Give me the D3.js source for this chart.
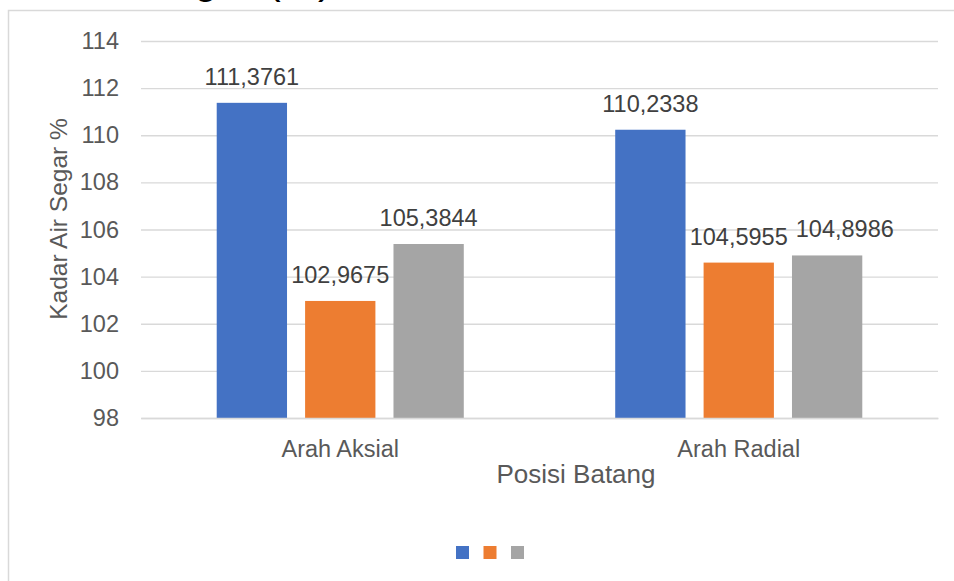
<!DOCTYPE html>
<html>
<head>
<meta charset="utf-8">
<script src="https://cdn.jsdelivr.net/npm/d3@7"></script>
<style>
  body { margin: 0; background: #fff; }
  svg { display: block; font-family: Arial, "Liberation Sans", sans-serif; }
</style>
</head>
<body>
<svg width="954" height="581"></svg>
<script>
const categories = ["Arah Aksial", "Arah Radial"];
const seriesKeys = ["s1", "s2", "s3"];
const seriesColors = ["#4472c4", "#ed7d31", "#a5a5a5"];
const values = [
  [111.3761, 102.9675, 105.3844],
  [110.2338, 104.5955, 104.8986]
];
const yTicks = [98, 100, 102, 104, 106, 108, 110, 112, 114];

const svg = d3.select("svg");
const plot = { left: 141, right: 938, top: 41, bottom: 418 };
const fontFam = "Arial, 'Liberation Sans', sans-serif";

const idLocale = d3.formatLocale({ decimal: ",", thousands: ".", grouping: [3], currency: ["", ""] });
const fmt = idLocale.format(".4f");

// outer frame (cropped on right and bottom)
svg.append("path")
  .attr("d", "M8.5,581 V10.5 H954")
  .attr("fill", "none")
  .attr("stroke", "#d9d9d9")
  .attr("stroke-width", 1.5);

// title, mostly cut off at the top
svg.append("text")
  .attr("x", 332).attr("y", -7)
  .attr("text-anchor", "end")
  .attr("font-size", 42)
  .attr("fill", "#000")
  .text("Kadar Air Segar (%)");

const y = d3.scaleLinear().domain([98, 114]).range([plot.bottom, plot.top]);

const x0 = d3.scaleBand()
  .domain(categories)
  .range([plot.left, plot.right])
  .paddingInner(0.38)
  .paddingOuter(0.19);

const x1 = d3.scaleBand()
  .domain(seriesKeys)
  .range([0, x0.bandwidth()])
  .paddingInner(0.2045);

const color = d3.scaleOrdinal().domain(seriesKeys).range(seriesColors);

// grid lines + y tick labels
const yAxis = d3.axisLeft(y).tickValues(yTicks).tickSize(-(plot.right - plot.left)).tickPadding(22);
svg.append("g")
  .attr("transform", `translate(${plot.left},0)`)
  .call(yAxis)
  .call(g => g.select(".domain").remove())
  .call(g => g.selectAll(".tick line").attr("stroke", "#d9d9d9").attr("stroke-width", 1.3))
  .call(g => g.selectAll(".tick text").attr("font-size", 23.5).attr("fill", "#595959").attr("font-family", fontFam));

// bars
const groups = svg.append("g").selectAll("g")
  .data(categories)
  .join("g")
  .attr("transform", d => `translate(${x0(d)},0)`);

groups.selectAll("rect")
  .data((d, i) => seriesKeys.map((k, j) => ({ key: k, value: values[i][j] })))
  .join("rect")
  .attr("x", d => x1(d.key))
  .attr("width", x1.bandwidth())
  .attr("y", d => y(d.value))
  .attr("height", d => y(98) - y(d.value))
  .attr("fill", d => color(d.key));

groups.selectAll("text.val")
  .data((d, i) => seriesKeys.map((k, j) => ({ key: k, value: values[i][j] })))
  .join("text")
  .attr("class", "val")
  .attr("x", d => x1(d.key) + x1.bandwidth() / 2)
  .attr("y", d => y(d.value) - 18)
  .attr("text-anchor", "middle")
  .attr("font-size", 23.5)
  .attr("fill", "#404040")
  .text(d => fmt(d.value));

// nudge labels that collide with the previous one (like Excel does)
groups.each(function() {
  let prev = null;
  d3.select(this).selectAll("text.val").each(function() {
    const b = this.getBBox();
    if (prev && b.x < prev.x + prev.width + 6 &&
        b.y < prev.y + prev.height && prev.y < b.y + b.height) {
      const shift = prev.x + prev.width + 8 - b.x;
      d3.select(this).attr("x", +d3.select(this).attr("x") + shift);
      b.x += shift;
    }
    prev = b;
  });
});

// x axis category labels
const xAxis = d3.axisBottom(x0).tickSize(0).tickPadding(22);
svg.append("g")
  .attr("transform", `translate(0,${plot.bottom})`)
  .call(xAxis)
  .call(g => g.select(".domain").attr("stroke", "#d9d9d9").attr("stroke-width", 1.3))
  .call(g => g.selectAll(".tick text").attr("font-size", 23.5).attr("fill", "#595959").attr("font-family", fontFam));

// axis titles
svg.append("text")
  .attr("x", 576)
  .attr("y", 483)
  .attr("text-anchor", "middle")
  .attr("font-size", 26)
  .attr("fill", "#595959")
  .text("Posisi Batang");

svg.append("text")
  .attr("transform", "translate(67,219) rotate(-90)")
  .attr("text-anchor", "middle")
  .attr("font-size", 24.5)
  .attr("fill", "#595959")
  .text("Kadar Air Segar %");

// legend (markers only)
const legendX = d3.scalePoint().domain(seriesKeys).range([456, 511]);
svg.append("g").selectAll("rect")
  .data(seriesKeys)
  .join("rect")
  .attr("x", d => legendX(d))
  .attr("y", 546)
  .attr("width", 13)
  .attr("height", 13)
  .attr("fill", d => color(d));
</script>
</body>
</html>
